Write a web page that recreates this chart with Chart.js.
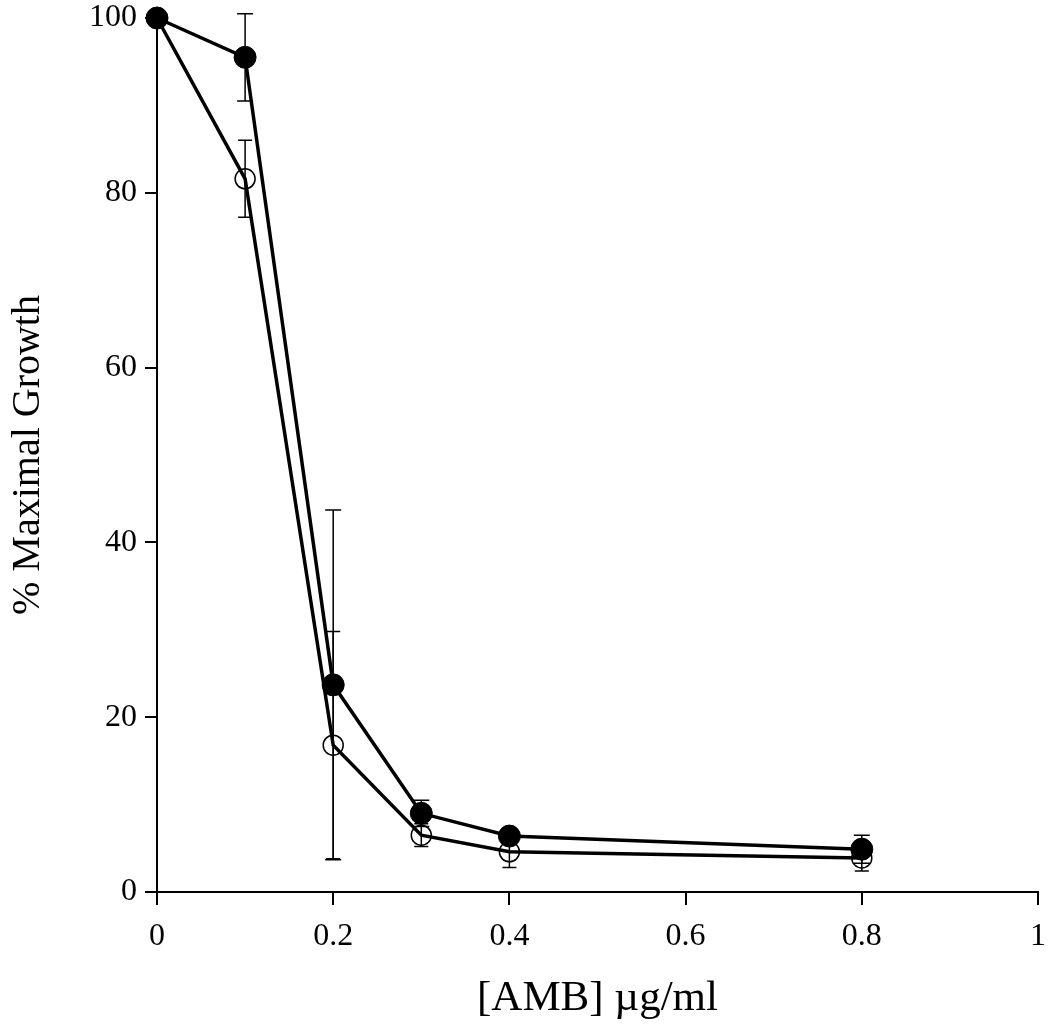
<!DOCTYPE html>
<html>
<head>
<meta charset="utf-8">
<script src="https://cdn.jsdelivr.net/npm/chart.js@4.4.1/dist/chart.umd.min.js"></script>
<style>
  html, body { margin: 0; padding: 0; background: #fff; overflow: hidden; }
  #chart { display: block; }
</style>
</head>
<body>
<canvas id="chart" width="1050" height="1029"></canvas>
<script>
const doses = [0, 0.1, 0.2, 0.3, 0.4, 0.8];
const growthFilled = [100, 95.5, 23.7, 9.0, 6.4, 4.9];
const errFilled = [0, 5, 20, 1.5, 0, 1.6];
const growthOpen = [100, 81.6, 16.8, 6.5, 4.6, 3.9];
const errOpen = [0, 4.4, 13, 1.3, 1.8, 1.5];

const xTicks = [0, 0.2, 0.4, 0.6, 0.8, 1];
const yTicks = [0, 20, 40, 60, 80, 100];

const serif = "'Liberation Serif', 'Times New Roman', serif";

function toPoints(ys) {
    return doses.map((d, i) => ({ x: d, y: ys[i] }));
}

// vertical error bars with caps, drawn under the markers
const errorBars = {
    id: "errorBars",
    beforeDatasetsDraw(chart) {
        const ctx = chart.ctx;
        const xs = chart.scales.x;
        const ys = chart.scales.y;
        chart.data.datasets.forEach(ds => {
            const errs = ds.errors || [];
            ctx.save();
            ctx.strokeStyle = "#000";
            ctx.lineWidth = 1.5;
            ds.data.forEach((p, i) => {
                const e = errs[i];
                if (!e) return;
                const px = xs.getPixelForValue(p.x);
                const top = ys.getPixelForValue(p.y + e);
                const bot = ys.getPixelForValue(p.y - e);
                const cap = ds.capHalf;
                ctx.beginPath();
                ctx.moveTo(px, top);
                ctx.lineTo(px, bot);
                ctx.moveTo(px - cap, top);
                ctx.lineTo(px + cap, top);
                ctx.moveTo(px - cap, bot);
                ctx.lineTo(px + cap, bot);
                ctx.stroke();
            });
            ctx.restore();
        });
    }
};

new Chart(document.getElementById("chart"), {
    type: "scatter",
    data: {
        datasets: [
            {
                label: "open",
                data: toPoints(growthOpen),
                errors: errOpen,
                capHalf: 7,
                showLine: true,
                clip: false,
                borderColor: "#000",
                borderWidth: 3.5,
                pointRadius: 10,
                pointBorderWidth: 1.5,
                pointBackgroundColor: "rgba(255,255,255,0)",
                pointBorderColor: "#000"
            },
            {
                label: "filled",
                data: toPoints(growthFilled),
                errors: errFilled,
                capHalf: 8,
                showLine: true,
                clip: false,
                borderColor: "#000",
                borderWidth: 3.5,
                pointRadius: 11,
                pointBorderWidth: 1,
                pointBackgroundColor: "#000",
                pointBorderColor: "#000"
            }
        ]
    },
    options: {
        responsive: false,
        animation: false,
        layout: { padding: { top: 18, right: 10, left: 0, bottom: 0 } },
        plugins: {
            legend: { display: false },
            tooltip: { enabled: false }
        },
        scales: {
            x: {
                type: "linear",
                min: 0,
                max: 1,
                afterBuildTicks: axis => { axis.ticks = xTicks.map(v => ({ value: v })); },
                afterFit: axis => {
                    axis.height = 137;
                    axis.paddingLeft = 0;
                    axis.paddingRight = 0;
                },
                border: { display: true, color: "#000", width: 2 },
                grid: { display: true, drawOnChartArea: false, drawTicks: true, tickLength: 13, color: "#000", lineWidth: 2 },
                ticks: { color: "#000", padding: 12, font: { family: serif, size: 32 }, maxRotation: 0, callback: v => String(v) },
                title: { display: true, text: "[AMB] µg/ml", color: "#000", font: { family: serif, size: 43 }, padding: { top: 10 } }
            },
            y: {
                type: "linear",
                min: 0,
                max: 100,
                afterBuildTicks: axis => { axis.ticks = yTicks.map(v => ({ value: v })); },
                afterFit: axis => {
                    axis.width = 157;
                    axis.paddingTop = 0;
                    axis.paddingBottom = 0;
                },
                border: { display: true, color: "#000", width: 2 },
                grid: { display: true, drawOnChartArea: false, drawTicks: true, tickLength: 12, color: "#000", lineWidth: 2 },
                ticks: { color: "#000", padding: 8, font: { family: serif, size: 32 }, callback: v => String(v) },
                title: { display: true, text: "% Maximal Growth", color: "#000", font: { family: serif, size: 40 }, padding: { bottom: 8 } }
            }
        }
    },
    plugins: [errorBars]
});
</script>
</body>
</html>
